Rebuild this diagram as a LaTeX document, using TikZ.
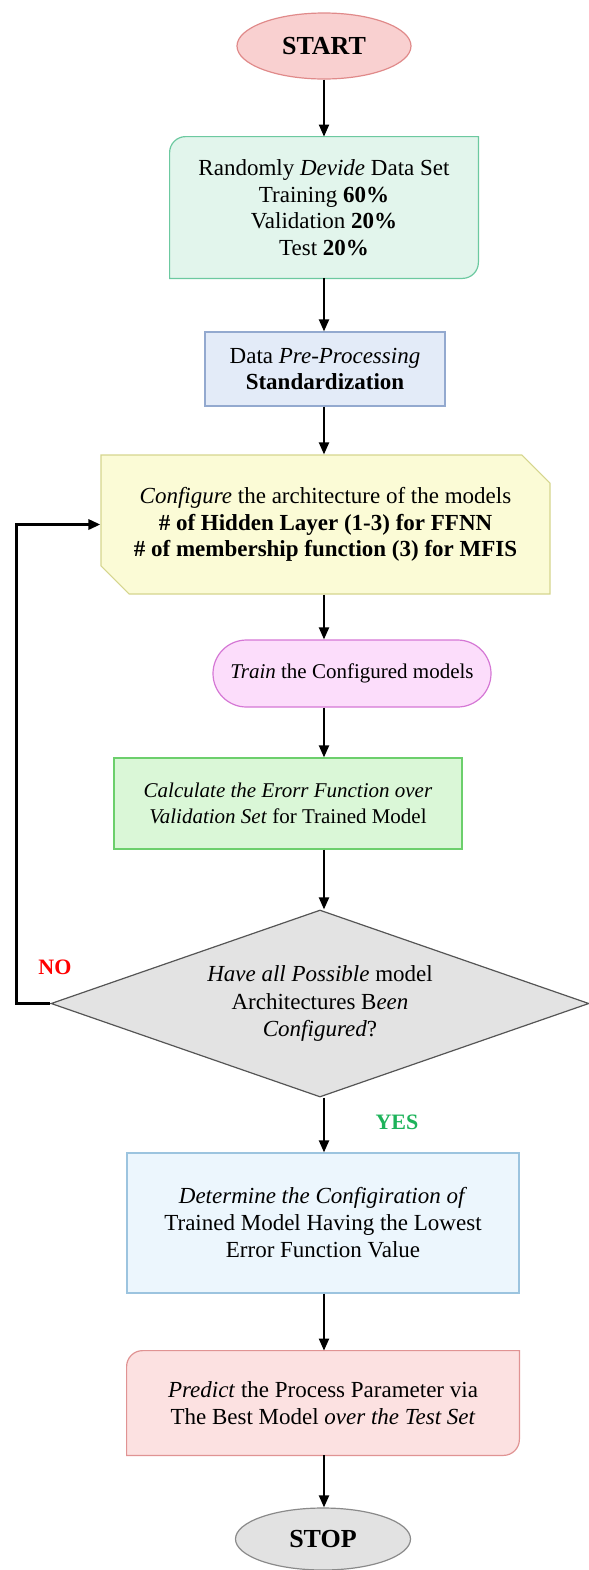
\documentclass[tikz,border=0pt]{standalone}
\usepackage{fontspec}
\setmainfont{Liberation Serif}
\usepackage{tikz}
\usetikzlibrary{shapes.geometric, shapes.misc, arrows.meta, backgrounds}

\definecolor{startfill}{HTML}{F9D0D0}
\definecolor{startdraw}{HTML}{E08A8A}
\definecolor{divfill}{HTML}{E2F5EC}
\definecolor{divdraw}{HTML}{6CC9A0}
\definecolor{datafill}{HTML}{E3EBF8}
\definecolor{datadraw}{HTML}{93A9CF}
\definecolor{conffill}{HTML}{FBFBD6}
\definecolor{confdraw}{HTML}{D5D58E}
\definecolor{trainfill}{HTML}{FCDDFB}
\definecolor{traindraw}{HTML}{D577D5}
\definecolor{calcfill}{HTML}{DAF7D7}
\definecolor{calcdraw}{HTML}{6CCF6C}
\definecolor{decfill}{HTML}{E3E3E3}
\definecolor{decdraw}{HTML}{555555}
\definecolor{detfill}{HTML}{ECF6FD}
\definecolor{detdraw}{HTML}{9CC4DF}
\definecolor{predfill}{HTML}{FCE1E1}
\definecolor{preddraw}{HTML}{E09393}
\definecolor{stopfill}{HTML}{E2E2E2}
\definecolor{stopdraw}{HTML}{8A8A8A}
\definecolor{yesgreen}{HTML}{1DB35A}

\begin{document}
\begin{tikzpicture}[x=0.5pt, y=-0.5pt,
	txt/.style = {align=center, inner sep=0pt, font=\fontsize{11.5}{13.3}\selectfont},
	small/.style = {font=\fontsize{10.5}{12.7}\selectfont},
	term/.style = {ellipse, draw=#1draw, fill=#1fill, line width=0.6pt,
	font=\fontsize{13}{15}\selectfont\bfseries},
	box/.style = {txt, rectangle, draw=#1draw, fill=#1fill, line width=0.6pt},
	edge/.style = {line width=1pt, -{Triangle[length=6pt, width=5pt]}},
	loopline/.style = {line width=1.6pt, -{Triangle[length=6pt, width=5pt]}}]

	\useasboundingbox (0,0) rectangle (589,1570);

	\node (start) [term=start, minimum width=87pt, minimum height=33pt] at (324,46) {START};

	\node (divide) [txt, minimum width=154pt, minimum height=70.5pt] at (324,207.5)
		{Randomly \textit{Devide} Data Set\\Training \textbf{60\%}\\Validation \textbf{20\%}\\Test \textbf{20\%}};

	\node (data) [box=data, minimum width=120pt, minimum height=37pt] at (325,369)
		{Data \textit{Pre-Processing}\\\textbf{Standardization}};

	\node (config) [txt, chamfered rectangle, chamfered rectangle corners={north east, south west},
		chamfered rectangle xsep=11pt, draw=confdraw, fill=conffill, line width=0.6pt,
		minimum width=224.5pt, minimum height=69.5pt] at (325.5,524.5)
		{\textit{Configure} the architecture of the models\\\textbf{\# of Hidden Layer (1-3) for FFNN}\\\textbf{\# of membership function (3) for MFIS}};

	\node (train) [txt, small, rounded rectangle, draw=traindraw, fill=trainfill, line width=0.6pt,
		minimum width=139pt, minimum height=33.5pt] at (352,673.5)
		{\textit{Train} the Configured models};

	\node (calc) [box=calc, small, minimum width=174pt, minimum height=45.5pt] at (288,803.5)
		{\textit{Calculate the Erorr Function over}\\\textit{Validation Set} for Trained Model};

	\node (decide) [txt, font=\fontsize{11.5}{13.8}\selectfont, diamond, draw=decdraw, fill=decfill,
		line width=0.6pt, aspect=2.9, minimum width=269pt, minimum height=93.5pt] at (320,1003.5)
		{\textit{Have all Possible} model\\Architectures B\textit{een}\\\textit{Configured}?};

	\node (determine) [box=det, font=\fontsize{11.5}{13.5}\selectfont, minimum width=196pt,
		minimum height=70pt] at (323,1223)
		{\textit{Determine the Configiration of}\\Trained Model Having the Lowest\\Error Function Value};

	\node (predict) [txt, font=\fontsize{11.5}{13.5}\selectfont, minimum width=196pt,
		minimum height=52pt] at (323,1403)
		{\textit{Predict} the Process Parameter via\\The Best Model \textit{over the Test Set}};

	\node (stop) [term=stop, minimum width=87.5pt, minimum height=31pt] at (323,1539) {STOP};

	% boxes with two round corners
	\begin{pgfonlayer}{background}
		\draw[draw=divdraw, fill=divfill, line width=0.6pt] (divide.south west)
			-- ([yshift=-8pt]divide.north west) arc[start angle=180, end angle=90, radius=8pt]
			-- (divide.north east) -- ([yshift=8pt]divide.south east)
			arc[start angle=0, end angle=-90, radius=8pt] -- cycle;
		\draw[draw=preddraw, fill=predfill, line width=0.6pt] (predict.south west)
			-- ([yshift=-8pt]predict.north west) arc[start angle=180, end angle=90, radius=8pt]
			-- (predict.north east) -- ([yshift=8pt]predict.south east)
			arc[start angle=0, end angle=-90, radius=8pt] -- cycle;
	\end{pgfonlayer}

	\draw[edge] (start) -- (divide);
	\draw[edge] (divide.south -| start) -- (data.north -| start);
	\draw[edge] (data.south -| start) -- (config.north -| start);
	\draw[edge] (config.south -| start) -- (train.north -| start);
	\draw[edge] (train.south -| start) -- (calc.north -| start);
	\draw[edge] (calc.south -| start) -- (decide.north -| start);
	\draw[edge] (decide.south -| start) -- (determine.north -| start);
	\draw[edge] (determine.south -| start) -- (predict.north -| start);
	\draw[edge] (predict.south -| start) -- (stop.north -| start);

	\draw[loopline] (decide.west) -- ++(-34,0) |- (config.west);

	% Descriptions
	\node (no) [font=\fontsize{11}{13}\selectfont\bfseries, text=red] at (55,967) {NO};
	\node (yes) [font=\fontsize{11}{13}\selectfont\bfseries, text=yesgreen] at (397,1122) {YES};
\end{tikzpicture}
\end{document}
